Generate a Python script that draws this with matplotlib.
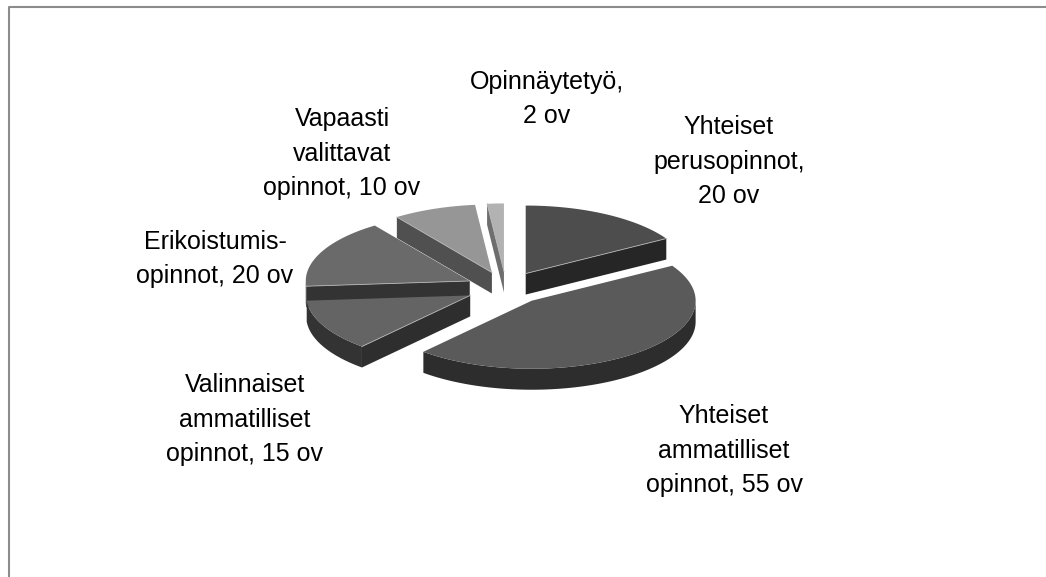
import numpy as np
import matplotlib
matplotlib.use('Agg')
import matplotlib.pyplot as plt

plt.rcParams['font.family'] = ['Liberation Sans', 'DejaVu Sans']

labels = ['Yhteiset\nperusopinnot,\n20 ov',
          'Yhteiset\nammatilliset\nopinnot, 55 ov',
          'Valinnaiset\nammatilliset\nopinnot, 15 ov',
          'Erikoistumis-\nopinnot, 20 ov',
          'Vapaasti\nvalittavat\nopinnot, 10 ov',
          'Opinnäytetyö,\n2 ov']
values = [20, 55, 15, 20, 10, 2]

top_colors = ['#4d4d4d', '#5a5a5a', '#646464', '#6a6a6a', '#969696', '#b2b2b2']
face_colors = ['#262626', '#2d2d2d', '#2e2e2e', '#333333', '#505050', '#6e6e6e']
arc_colors = ['#262626', '#2d2d2d', '#333333', '#333333', '#505050', '#6e6e6e']
# centre x, baseline of the last line
label_pos = [(729, 203), (724, 492), (245, 461), (215, 283), (342, 195), (547, 123)]

# pie layout in pixels
cx, cy = 506, 288
rx, ry = 164, 68
depth = 21
explode = 40

W, H = 1046, 577
fig = plt.figure(figsize=(W / 100, H / 100), dpi=100)
ax = fig.add_axes([0, 0, 1, 1])
ax.set_xlim(0, W)
ax.set_ylim(H, 0)
ax.axis('off')

# frame, cut off at the right and the bottom
ax.plot([8.5, 8.5, W], [H, 6.5, 6.5], color='#8c8c8c', lw=1.5, solid_capstyle='butt')

ang = np.cumsum([0] + values) / sum(values) * 2 * np.pi


def rim(x0, y0, t):
    return x0 + rx * np.sin(t), y0 - ry * np.cos(t)


def draw_slice(i):
    a0, a1 = ang[i], ang[i + 1]
    mid = (a0 + a1) / 2
    x0 = cx + explode * np.sin(mid)
    y0 = cy - explode * ry / rx * np.cos(mid)

    # cut faces, only the ones turned towards the viewer
    for a, vis in ((a0, np.sin(a0) < -1e-6), (a1, np.sin(a1) > 1e-6)):
        if vis:
            xe, ye = rim(x0, y0, a)
            ax.fill([x0, xe, xe, x0], [y0, ye, ye + depth, y0 + depth],
                    color=face_colors[i], lw=0, zorder=i_z[i])

    # outer wall, front half of the ellipse only
    lo, hi = max(a0, np.pi / 2), min(a1, 3 * np.pi / 2)
    if hi > lo:
        t = np.linspace(lo, hi, 100)
        xa, ya = rim(x0, y0, t)
        ax.fill(np.r_[xa, xa[::-1]], np.r_[ya, ya[::-1] + depth],
                color=arc_colors[i], lw=0, zorder=i_z[i])

    t = np.linspace(a0, a1, 200)
    xa, ya = rim(x0, y0, t)
    ax.fill(np.r_[x0, xa], np.r_[y0, ya], color=top_colors[i], lw=0, zorder=i_z[i] + 0.5)

    # thin light edge along the cut
    for a, vis in ((a0, np.sin(a0) < -1e-6), (a1, np.sin(a1) > 1e-6)):
        if vis:
            xe, ye = rim(x0, y0, a)
            ax.plot([x0, xe], [y0, ye], color='#b4b4b4', lw=0.6, zorder=i_z[i] + 0.6)


# back slices first
draw_order = [5, 4, 3, 2, 0, 1]
i_z = {s: n + 2 for n, s in enumerate(draw_order)}
for i in draw_order:
    draw_slice(i)

for lab, (x, y) in zip(labels, label_pos):
    ax.text(x, y, lab, ha='center', va='baseline', fontsize=18, linespacing=1.55,
            color='black', zorder=20)

fig.savefig('out.png', dpi=100)
